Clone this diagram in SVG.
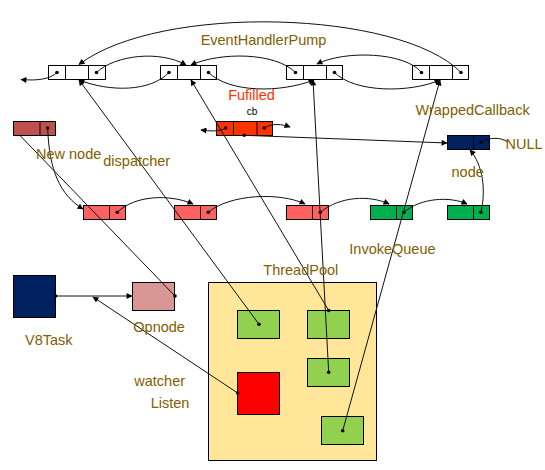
<svg xmlns="http://www.w3.org/2000/svg" width="545" height="470" viewBox="0 0 545 470">
<defs>
<marker id="ah" viewBox="0 0 10 10" refX="9" refY="5" markerWidth="7" markerHeight="6" markerUnits="userSpaceOnUse" orient="auto"><path d="M0,0 L10,5 L0,10 z" fill="#000"/></marker>
<style>
.box{stroke:#000;stroke-width:1}
.w{fill:#fff}
.c{fill:none;stroke:#111;stroke-width:1}
.a{marker-end:url(#ah)}
.d{fill:#000}
.lbl{font-family:"Liberation Sans",Arial,sans-serif;font-size:14.5px;fill:#806000}
</style>
</defs>
<rect width="545" height="470" fill="#fff"/>

<g id="pump-node-1">
<rect class="box w" x="48.5" y="65.5" width="57" height="14"/>
<line class="box" x1="65.5" y1="65.5" x2="65.5" y2="79.5"/><line class="box" x1="88.5" y1="65.5" x2="88.5" y2="79.5"/>
<circle class="d" cx="57" cy="72.5" r="1.8"/><circle class="d" cx="96.5" cy="72.5" r="1.8"/>
</g>
<g id="pump-node-2">
<rect class="box w" x="160.5" y="65.5" width="56" height="14"/>
<line class="box" x1="177.5" y1="65.5" x2="177.5" y2="79.5"/><line class="box" x1="200.5" y1="65.5" x2="200.5" y2="79.5"/>
<circle class="d" cx="169" cy="72.5" r="1.8"/><circle class="d" cx="208.5" cy="72.5" r="1.8"/>
</g>
<g id="pump-node-3">
<rect class="box w" x="286.5" y="65.5" width="56" height="14"/>
<line class="box" x1="303.5" y1="65.5" x2="303.5" y2="79.5"/><line class="box" x1="326.5" y1="65.5" x2="326.5" y2="79.5"/>
<circle class="d" cx="295.5" cy="72.5" r="1.8"/><circle class="d" cx="334.5" cy="72.5" r="1.8"/>
</g>
<g id="pump-node-4">
<rect class="box w" x="412.5" y="65.5" width="56" height="14"/>
<line class="box" x1="429.5" y1="65.5" x2="429.5" y2="79.5"/><line class="box" x1="452.5" y1="65.5" x2="452.5" y2="79.5"/>
<circle class="d" cx="421.5" cy="72.5" r="1.8"/><circle class="d" cx="461" cy="72.5" r="1.8"/>
</g>

<g id="fufilled-node">
<rect class="box" x="216.5" y="121.5" width="56" height="14" fill="#FF3300"/>
<line class="box" x1="233.5" y1="121.5" x2="233.5" y2="135.5"/><line class="box" x1="257" y1="121.5" x2="257" y2="135.5"/>
<circle class="d" cx="225.7" cy="128" r="1.8"/><circle class="d" cx="264.3" cy="128" r="1.8"/><circle class="d" cx="244.3" cy="135.3" r="1.8"/>
</g>

<g id="new-node">
<rect class="box" x="13.5" y="121.5" width="42" height="14" fill="#C0504D"/>
<line class="box" x1="40" y1="121.5" x2="40" y2="135.5"/>
<circle class="d" cx="47.7" cy="128" r="1.8"/>
</g>

<g id="wrapped-callback">
<rect class="box" x="447.5" y="135.5" width="42" height="14" fill="#002060"/>
<line class="box" x1="473.5" y1="135.5" x2="473.5" y2="149.5"/>
<circle class="d" cx="481" cy="142.3" r="1.8"/>
</g>

<g id="queue-node-1">
<rect class="box" x="83.5" y="205.5" width="42" height="14" fill="#FF6161"/>
<line class="box" x1="109.5" y1="205.5" x2="109.5" y2="219.5"/>
<circle class="d" cx="117.3" cy="212.3" r="1.8"/>
</g>
<g id="queue-node-2">
<rect class="box" x="174.5" y="205.5" width="42" height="14" fill="#FF6161"/>
<line class="box" x1="200.5" y1="205.5" x2="200.5" y2="219.5"/>
<circle class="d" cx="208.3" cy="212.3" r="1.8"/>
</g>
<g id="queue-node-3">
<rect class="box" x="286.5" y="205.5" width="42" height="14" fill="#FF6161"/>
<line class="box" x1="312.5" y1="205.5" x2="312.5" y2="219.5"/>
<circle class="d" cx="320.3" cy="212.3" r="1.8"/>
</g>
<g id="invoke-node-1">
<rect class="box" x="370.5" y="205.5" width="42" height="14" fill="#00B050"/>
<line class="box" x1="396.5" y1="205.5" x2="396.5" y2="219.5"/>
<circle class="d" cx="404" cy="212.3" r="1.8"/>
</g>
<g id="invoke-node-2">
<rect class="box" x="447.5" y="205.5" width="42" height="14" fill="#00B050"/>
<line class="box" x1="473.5" y1="205.5" x2="473.5" y2="219.5"/>
<circle class="d" cx="481" cy="212.3" r="1.8"/>
</g>

<g id="v8task">
<rect class="box" x="13.5" y="275.5" width="42" height="42" fill="#002060"/>
<circle class="d" cx="55.7" cy="296" r="1.8"/>
</g>
<g id="opnode">
<rect class="box" x="132.5" y="282.5" width="42" height="28" fill="#D99694"/>
<circle class="d" cx="175" cy="296" r="1.8"/>
</g>

<g id="threadpool">
<rect class="box" x="208.5" y="282.5" width="168" height="178" fill="#FFE699"/>
</g>
<g id="worker-1">
<rect class="box" x="237.5" y="310.5" width="42" height="28" fill="#92D050"/>
<circle class="d" cx="259" cy="324.3" r="1.8"/>
</g>
<g id="worker-2">
<rect class="box" x="307.5" y="310.5" width="42" height="28" fill="#92D050"/>
<circle class="d" cx="328.7" cy="310.5" r="1.8"/>
</g>
<g id="worker-3">
<rect class="box" x="307.5" y="358.5" width="42" height="28" fill="#92D050"/>
<circle class="d" cx="328.7" cy="372.3" r="1.8"/>
</g>
<g id="worker-4">
<rect class="box" x="321.5" y="416.5" width="42" height="28" fill="#92D050"/>
<circle class="d" cx="342.7" cy="430.7" r="1.8"/>
</g>
<g id="listen">
<rect class="box" x="237.5" y="372.5" width="42" height="42" fill="#FF0000"/>
<circle class="d" cx="237.7" cy="393" r="1.8"/>
</g>

<g id="connectors">
<path class="c a" d="M57,72.5 C50,79 38,81 21,79.5"/>
<path class="c a" d="M96.5,72.5 C115,55 160,50 186,65"/>
<path class="c a" d="M295.5,72.5 C275,52 220,52 191,65"/>
<path class="c a" d="M169,72.5 C150,92 110,92 79,80"/>
<path class="c a" d="M208.5,72.5 C230,93 280,93 314,80"/>
<path class="c a" d="M334.5,72.5 C355,93 410,93 440,80"/>
<path class="c a" d="M421.5,72.5 C405,52 345,50 317,64"/>
<path class="c a" d="M461,72.5 C400,10 160,3 79,64.5"/>

<path class="c a" d="M225.7,128 C219,132 210,131 201,130"/>
<path class="c a" d="M264.3,128 C272,123 282,124 290,127"/>
<path class="c a" d="M244.3,135.3 L447,143"/>
<path class="c" d="M481,142.3 C490,137 500,137 508,142"/>

<path class="c a" d="M47.7,128 C49,170 60,195 83,209"/>
<path class="c a" d="M117.3,212.3 C135,195 170,194 193,204"/>
<path class="c a" d="M208.3,212.3 C230,194 280,192 305,204"/>
<path class="c a" d="M320.3,212.3 C340,196 370,195 389,204"/>
<path class="c a" d="M404,212.3 C420,198 450,196 467,204"/>
<path class="c a" d="M481,212.3 C486,190 483,165 470,150"/>

<path class="c a" d="M259,324.3 L79,80"/>
<path class="c a" d="M328.7,310.5 L191,80"/>
<path class="c a" d="M328.7,372.3 L313,80"/>
<path class="c a" d="M342.7,430.7 L440,80"/>
<path class="c" d="M175,296 L20,135.5"/>

<path class="c a" d="M55.7,296 L132,296"/>
<path class="c a" d="M237.7,393 L93,297"/>
</g>

<g id="labels">
<text class="lbl" x="263.5" y="45" text-anchor="middle">EventHandlerPump</text>
<text x="251.5" y="100" text-anchor="middle" style="font-family:'Liberation Sans',Arial,sans-serif;font-size:14.5px;fill:#FF3300">Fufilled</text>
<text x="252" y="115" text-anchor="middle" style="font-family:'Liberation Sans',Arial,sans-serif;font-size:10px;fill:#000">cb</text>
<text class="lbl" x="415.5" y="115">WrappedCallback</text>
<text class="lbl" x="505.5" y="149">NULL</text>
<text class="lbl" x="36" y="158.5">New node</text>
<text class="lbl" x="103.3" y="166">dispatcher</text>
<text class="lbl" x="451.5" y="177">node</text>
<text class="lbl" x="349.3" y="253.5">InvokeQueue</text>
<text class="lbl" x="263.3" y="275">ThreadPool</text>
<text class="lbl" x="25" y="344.5">V8Task</text>
<text class="lbl" x="133.3" y="332">Opnode</text>
<text class="lbl" x="134.3" y="386">watcher</text>
<text class="lbl" x="150.7" y="407.5">Listen</text>
</g>
</svg>
